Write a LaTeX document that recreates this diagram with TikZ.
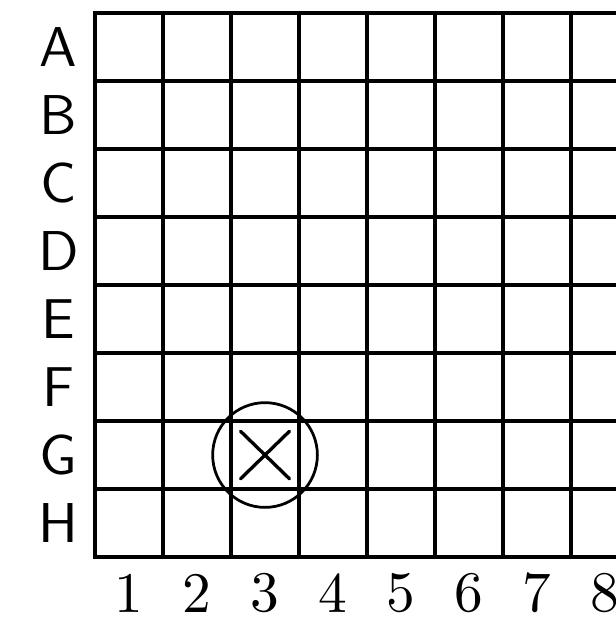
\documentclass[tikz,border=0pt]{standalone}
\usepackage{tikz}
\usetikzlibrary{positioning}
\definecolor{inkdark}{RGB}{0,0,0}
\tikzset{
  gridline/.style={line width=1.35pt, color=inkdark},
  rowlabel/.style={font=\fontsize{10pt}{12pt}\selectfont\sffamily, scale=2.35, transform shape, inner sep=0pt, color=inkdark},
  collabel/.style={font=\fontsize{10pt}{12pt}\selectfont, scale=2.4, transform shape, inner sep=0pt, color=inkdark},
  hitring/.style={circle, draw=inkdark, line width=1.15pt, minimum size=1.54cm, inner sep=0pt},
  hitcross/.style={line width=1.4pt, line cap=round, color=inkdark}
}

\begin{document}
\begin{tikzpicture}
  \useasboundingbox (-1.397,-0.926) rectangle (7.647,8.191);

  % Board
  \draw[gridline] (0,0) grid (8,8);
  \draw[gridline] (0,0) rectangle (8,8);

  % Row letters
  \foreach \r [count=\i] in {A,B,C,D,E,F,G,H}
    \node[rowlabel] (row-\r) at (-0.54, 8.5-\i) {\r};

  % Column numbers
  \foreach \c in {1,...,8}
    \node[collabel] (col-\c) at (\c-0.5, -0.53) {\c};

  % Shot at G3
  \node[hitring] (hit) at (2.5,1.5) {};
  \draw[hitcross] ([shift={(-0.36,-0.35)}]hit.center) -- ([shift={(0.36,0.35)}]hit.center);
  \draw[hitcross] ([shift={(-0.36,0.35)}]hit.center) -- ([shift={(0.36,-0.35)}]hit.center);
\end{tikzpicture}
\end{document}
